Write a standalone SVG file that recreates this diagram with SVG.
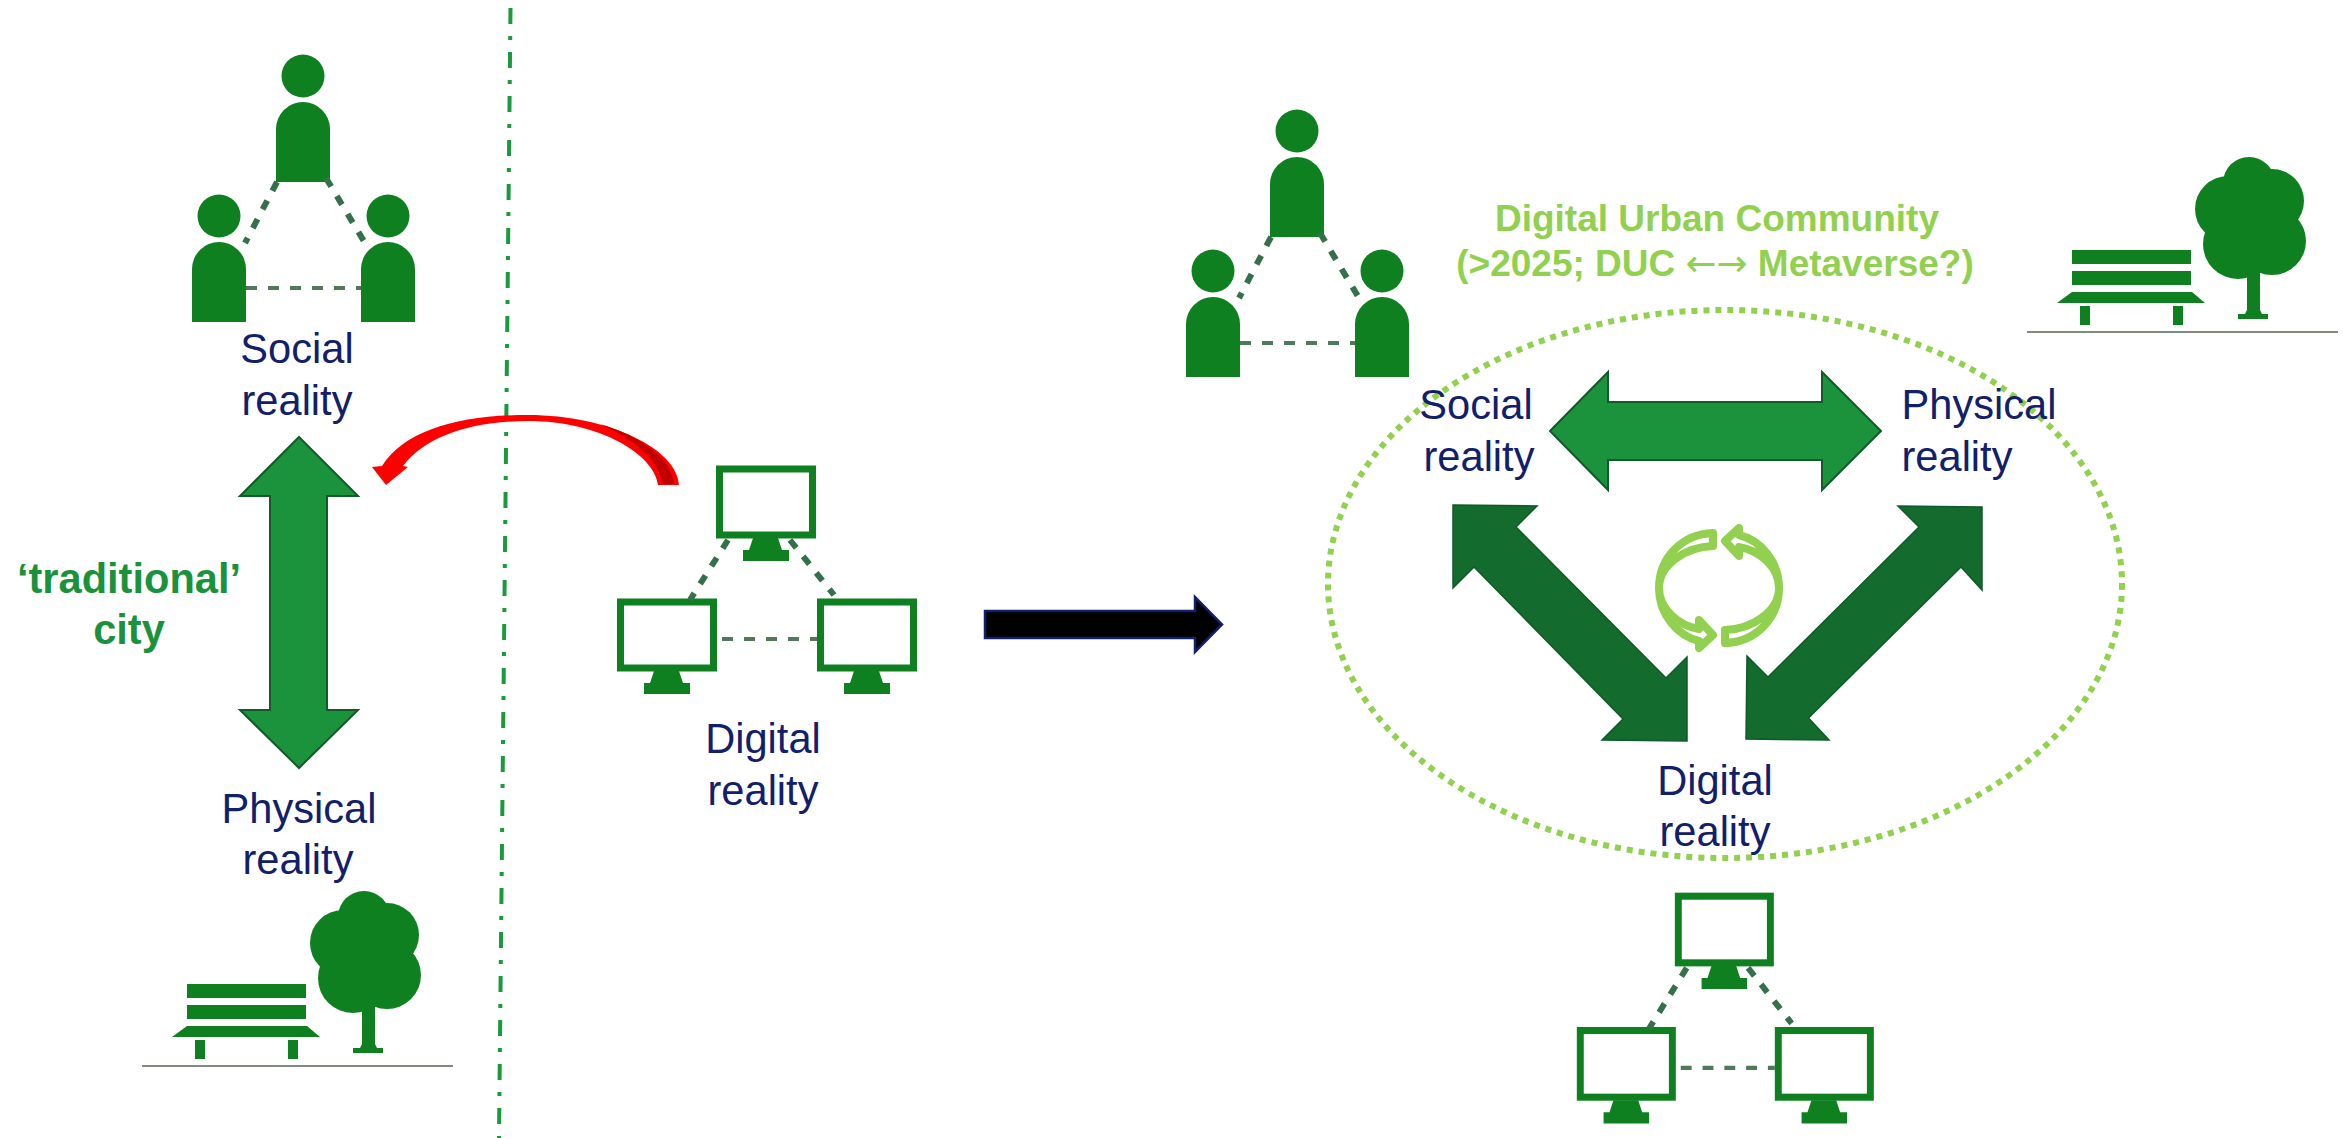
<svg xmlns="http://www.w3.org/2000/svg" xmlns:xlink="http://www.w3.org/1999/xlink" width="2343" height="1138" viewBox="0 0 2343 1138">
<style>
text{font-family:"Liberation Sans",Arial,sans-serif;font-size:41.6px;fill:#12206b;text-anchor:middle}
.b{font-weight:700}
.tg{fill:#1a923c}
.tl{fill:#92d050;font-size:37px}
.ar{font-family:"DejaVu Sans",sans-serif;font-weight:400}
.icon{fill:#0f8020}
.dash{fill:none;stroke:#35704a;stroke-width:6;stroke-dasharray:10 11}
.dash2{fill:none;stroke:#4f7a5a;stroke-width:4;stroke-dasharray:11 11}
.mon{fill:none;stroke:#0f8020;stroke-width:7}
.big{fill:#1a933c;stroke:#14592a;stroke-width:2}
.dark{fill:#136b2e;stroke:#0f5a28;stroke-width:1.5}
.cyc{fill:#fff;stroke:#92d050;stroke-width:8;stroke-linejoin:round}
</style>
<defs>
<g id="person"><circle cx="0" cy="-106" r="21.5"/><path d="M-27 0V-53A27 27 0 0 1 27 -53V0Z"/></g>
<g id="people">
<use xlink:href="#person" x="303" y="182" class="icon"/>
<use xlink:href="#person" x="219" y="322" class="icon"/>
<use xlink:href="#person" x="388" y="322" class="icon"/>
<path class="dash" d="M277 182L245 243M326 178L368 248"/>
<path class="dash2" d="M246 288H361"/>
</g>
<g id="bench">
<rect class="icon" x="187" y="984" width="119" height="14"/>
<rect class="icon" x="187" y="1005" width="119" height="14"/>
<path class="icon" d="M172 1037L187 1026H307L320 1037Z"/>
<rect class="icon" x="195" y="1040" width="10" height="19"/>
<rect class="icon" x="288" y="1040" width="10" height="19"/>
<g class="icon">
<circle cx="364" cy="917" r="26"/><circle cx="343" cy="943" r="33"/><circle cx="387" cy="935" r="32"/><circle cx="387" cy="975" r="34"/><circle cx="353" cy="978" r="35"/><circle cx="365" cy="955" r="32"/>
<path d="M362 1005H375V1044L377 1048H383V1053H353V1048H360L362 1044Z"/>
</g>
<path d="M142 1066H453" stroke="#808a80" stroke-width="2" fill="none"/>
</g>
<g id="monitor">
<rect class="mon" x="3.500" y="3" width="93" height="66"/>
<path class="icon" d="M37 72H62L66 84H73V95H27V84H33Z"/>
</g>
<g id="monitors">
<use xlink:href="#monitor" x="716" y="466"/>
<use xlink:href="#monitor" x="617" y="599"/>
<use xlink:href="#monitor" x="817" y="599"/>
<path class="dash" d="M728 540L690 600M790 540L834 595"/>
<path class="dash2" d="M722 639H817"/>
</g>
</defs>
<rect width="2343" height="1138" fill="#fff"/>

<g id="connectors">
<path id="divider" d="M510.500 8L499 1138" fill="none" stroke="#1a9a3c" stroke-width="4" stroke-dasharray="16 12 4 12"/>
<g id="red-arrow">
<path fill="#f00" d="M679 485H658C655 455 600 421 528 421C470 421 425 437 403 466L408 467L386 485L372 467L382 466C405 430 460 415 528 415C610 415 678 450 679 485Z"/>
<path fill="#c00000" d="M662 484H674C672 458 640 436 600 424C635 440 660 460 662 484Z"/>
</g>
<path id="transition-arrow" fill="#000" stroke="#12206b" stroke-width="2.500" d="M985 611H1195V597L1222 624.500L1195 652V638H985Z"/>
<path id="arrow-traditional" class="big" d="M299 437L358 496H327V710H358L299 768L240 710H270V496H240Z"/>
<path id="arrow-social-physical" class="big" d="M1550 431L1608 372V402H1822V372L1881 431L1822 490V460H1608V490Z"/>
<path id="arrow-social-digital" class="dark" d="M1453 505L1537 506L1516 527L1666 678L1687 657V741L1602 740L1623 719L1474 567L1453 588Z"/>
<path id="arrow-physical-digital" class="dark" d="M1982 507L1898 506L1919 527L1768 677L1747 656L1746 739L1829 740L1808.500 718L1961 567L1982 590Z"/>
</g>

<g id="node-social-left">
<use xlink:href="#people"/>
<text x="297" y="363">Social</text>
<text x="297" y="415">reality</text>
</g>
<g id="node-physical-left">
<use xlink:href="#bench"/>
<text x="299" y="823">Physical</text>
<text x="298" y="874">reality</text>
</g>
<g id="label-traditional">
<text class="b tg" x="129" y="593">‘traditional’</text>
<text class="b tg" x="129" y="644">city</text>
</g>
<g id="node-digital-middle">
<use xlink:href="#monitors"/>
<text x="763" y="753">Digital</text>
<text x="763" y="805">reality</text>
</g>

<g id="node-duc">
<ellipse cx="1725" cy="584" rx="397" ry="274" fill="none" stroke="#92d050" stroke-width="6" stroke-dasharray="6 6"/>
<text class="b tl" x="1717" y="231">Digital Urban Community</text>
<text class="b tl" x="1715" y="276">(&gt;2025; DUC <tspan class="ar">←→</tspan> Metaverse?)</text>
<g id="cycle">
<path class="cyc" d="M1713 533L1713 546C1685 547 1659 565 1659 588C1659 610 1680 626 1699 629L1699 620L1713 635L1699 648L1699 641C1678 636 1659 615 1659 588C1659 558 1682 534 1713 533Z"/>
<path class="cyc" transform="rotate(180 1719 588)" d="M1713 533L1713 546C1685 547 1659 565 1659 588C1659 610 1680 626 1699 629L1699 620L1713 635L1699 648L1699 641C1678 636 1659 615 1659 588C1659 558 1682 534 1713 533Z"/>
</g>
</g>
<g id="node-social-right">
<use xlink:href="#people" transform="translate(994 55)"/>
<text x="1476" y="419">Social</text>
<text x="1479" y="471">reality</text>
</g>
<g id="node-physical-right">
<use xlink:href="#bench" transform="translate(1885 -734)"/>
<text x="1979" y="419">Physical</text>
<text x="1957" y="471">reality</text>
</g>
<g id="node-digital-right">
<use xlink:href="#monitors" transform="translate(966 422.500) scale(.99 1.01)"/>
<text x="1715" y="795">Digital</text>
<text x="1715" y="846">reality</text>
</g>
</svg>
